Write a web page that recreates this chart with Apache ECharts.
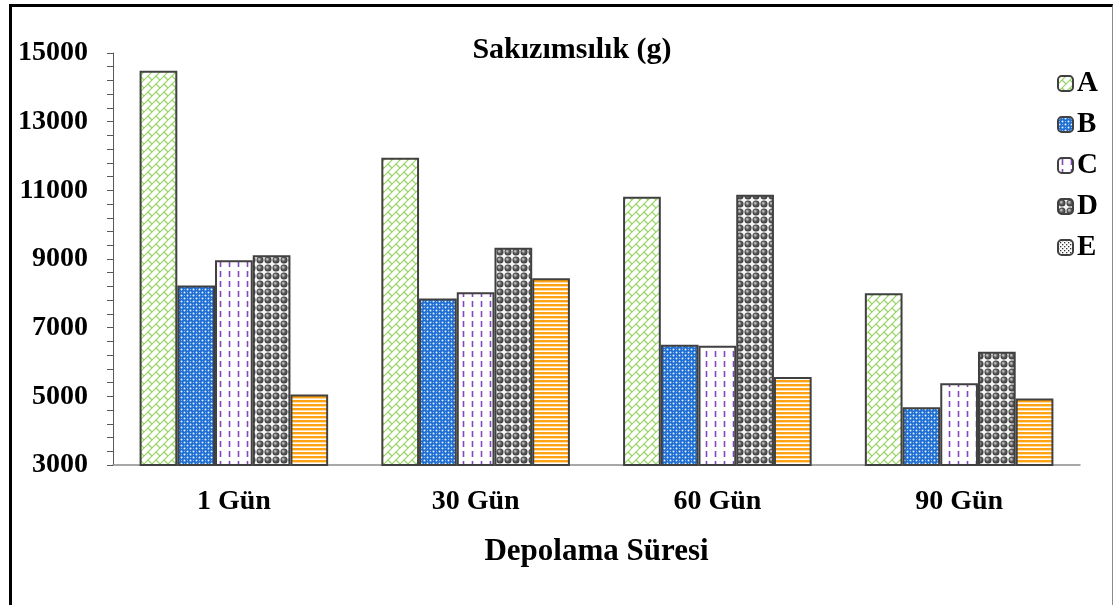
<!DOCTYPE html>
<html>
<head>
<meta charset="utf-8">
<script src="https://cdn.jsdelivr.net/npm/echarts@6/dist/echarts.min.js"></script>
<style>
  html, body { margin: 0; padding: 0; background: #fff; }
  #wrap { position: relative; width: 1120px; height: 605px; overflow: hidden; }
  #chart { position: absolute; left: 0; top: 0; width: 1120px; height: 605px; }
  #frame {
    position: absolute; left: 9px; top: 4px; width: 1100px; height: 640px;
    border-top: 3px solid #000; border-left: 3px solid #000; border-right: 1px solid #8a8a8a;
    pointer-events: none;
  }
</style>
</head>
<body>
<div id="wrap"><div id="chart"></div><div id="frame"></div></div>
<script>
// Storage time groups and treatments
const categories = ['1 Gün', '30 Gün', '60 Gün', '90 Gün'];
const seriesNames = ['A', 'B', 'C', 'D', 'E'];

// Gumminess (g) per treatment
const valuesA = [14480, 11950, 10810, 8000];
const valuesB = [8230, 7850, 6500, 4680];
const valuesC = [8960, 8030, 6470, 5380];
const valuesD = [9110, 9330, 10870, 6300];
const valuesE = [5050, 8440, 5560, 4940];

// Value axis range, labelled ticks and tick spacing
const yMin = 3000;
const yMax = 15000;
const yLabelValues = [3000, 5000, 7000, 9000, 11000, 13000, 15000];
const yTickStep = 400;

const yTickValues = [];
for (let v = yMin; v <= yMax; v += yTickStep) yTickValues.push(v);

const FONT = '"Liberation Serif", "Times New Roman", serif';

// Small canvas tiles used as fill patterns
function tile(w, h, draw) {
  const c = document.createElement('canvas');
  c.width = w; c.height = h;
  const g = c.getContext('2d');
  draw(g, w, h);
  return c;
}

// A: light green diagonal brick
const patA = tile(16, 16, (g, w, h) => {
  g.fillStyle = '#fff'; g.fillRect(0, 0, w, h);
  g.strokeStyle = '#94d35e'; g.lineWidth = 1.1;
  const segs = [[0, 16, 16, 0], [0, 8, 8, 0], [8, 16, 16, 8],
                [4, 4, 8, 8], [12, 12, 16, 16], [4, 12, 8, 16], [12, 4, 16, 8]];
  for (const dx of [-16, 0, 16]) for (const dy of [-16, 0, 16]) {
    for (const s of segs) {
      g.beginPath(); g.moveTo(s[0] + dx, s[1] + dy); g.lineTo(s[2] + dx, s[3] + dy); g.stroke();
    }
  }
});

// B: blue with fine white dots
const patB = tile(6, 6, (g, w, h) => {
  g.fillStyle = '#1f6fd3'; g.fillRect(0, 0, w, h);
  g.fillStyle = 'rgba(255,255,255,0.9)';
  g.beginPath(); g.arc(1.5, 1.5, 1.0, 0, Math.PI * 2); g.fill();
  g.beginPath(); g.arc(4.5, 4.5, 1.0, 0, Math.PI * 2); g.fill();
  g.fillStyle = 'rgba(170,205,245,0.8)';
  g.fillRect(4, 1, 1, 1); g.fillRect(1, 4, 1, 1);
});

// C: purple vertical dashes on white
const patC = tile(9, 10, (g, w, h) => {
  g.fillStyle = '#fff'; g.fillRect(0, 0, w, h);
  g.strokeStyle = '#8446c0'; g.lineWidth = 1.6;
  g.beginPath(); g.moveTo(4.5, 1); g.lineTo(4.5, 7); g.stroke();
});

// D: dark grey spheres
const patD = tile(8, 8, (g, w, h) => {
  g.fillStyle = '#f4f4f4'; g.fillRect(0, 0, w, h);
  const grad = g.createRadialGradient(3, 3, 0.3, 4, 4, 3.8);
  grad.addColorStop(0, '#d0d0d0');
  grad.addColorStop(0.45, '#5e5e5e');
  grad.addColorStop(1, '#333');
  g.fillStyle = grad;
  g.beginPath(); g.arc(4, 4, 3.5, 0, Math.PI * 2); g.fill();
});

// E: orange horizontal stripes
const patE = tile(4, 4, (g, w, h) => {
  g.fillStyle = '#fff'; g.fillRect(0, 0, w, h);
  g.fillStyle = '#ffa214'; g.fillRect(0, 0, w, 2.4);
});

// E legend swatch: sparse dark dots
const patELegend = tile(4, 4, (g, w, h) => {
  g.fillStyle = '#fff'; g.fillRect(0, 0, w, h);
  g.fillStyle = '#333'; g.fillRect(0, 0, 1.3, 1.3); g.fillRect(2, 2, 1.3, 1.3);
});

const fills = [patA, patB, patC, patD, patE];
const seriesValues = [valuesA, valuesB, valuesC, valuesD, valuesE];

const chart = echarts.init(document.getElementById('chart'), null, { renderer: 'canvas' });

chart.setOption({
  animation: false,
  backgroundColor: '#fff',
  title: {
    text: 'Sakızımsılık (g)',
    left: 567, top: 30, textAlign: 'center',
    textStyle: { fontFamily: FONT, fontWeight: 'bold', fontSize: 30, color: '#000' }
  },
  legend: {
    orient: 'vertical',
    left: 1052, top: 64,
    itemWidth: 15, itemHeight: 15, itemGap: 12,
    textStyle: { fontFamily: FONT, fontWeight: 'bold', fontSize: 29, color: '#000', padding: [0, 0, 0, -1] },
    data: seriesNames.map((n, i) => ({
      name: n,
      itemStyle: { color: { image: i === 4 ? patELegend : fills[i], repeat: 'repeat' }, borderColor: '#404040', borderWidth: 2 }
    }))
  },
  grid: { left: 113, right: 40, top: 53, bottom: 140, containLabel: false },
  xAxis: {
    type: 'category',
    data: categories,
    axisTick: { show: false },
    axisLine: { lineStyle: { color: '#8c8c8c', width: 1.5 } },
    axisLabel: { fontFamily: FONT, fontWeight: 'bold', fontSize: 28, color: '#000', margin: 23 },
    name: 'Depolama Süresi',
    nameLocation: 'middle',
    nameGap: 71,
    nameTextStyle: { fontFamily: FONT, fontWeight: 'bold', fontSize: 31, color: '#000' }
  },
  yAxis: {
    type: 'value',
    min: yMin, max: yMax,
    splitLine: { show: false },
    axisLine: { show: true, lineStyle: { color: '#595959', width: 1 } },
    axisTick: { show: true, length: 6, customValues: yTickValues, lineStyle: { color: '#595959' } },
    axisLabel: {
      customValues: yLabelValues,
      formatter: v => String(v),
      fontFamily: FONT, fontWeight: 'bold', fontSize: 28, color: '#000', margin: 25
    }
  },
  series: seriesNames.map((n, i) => ({
    name: n,
    type: 'bar',
    data: seriesValues[i],
    barGap: '0%',
    barCategoryGap: '22%',
    itemStyle: {
      color: { image: fills[i], repeat: 'repeat' },
      borderColor: '#404040',
      borderWidth: 2
    },
    emphasis: { disabled: true }
  }))
});
</script>
</body>
</html>
